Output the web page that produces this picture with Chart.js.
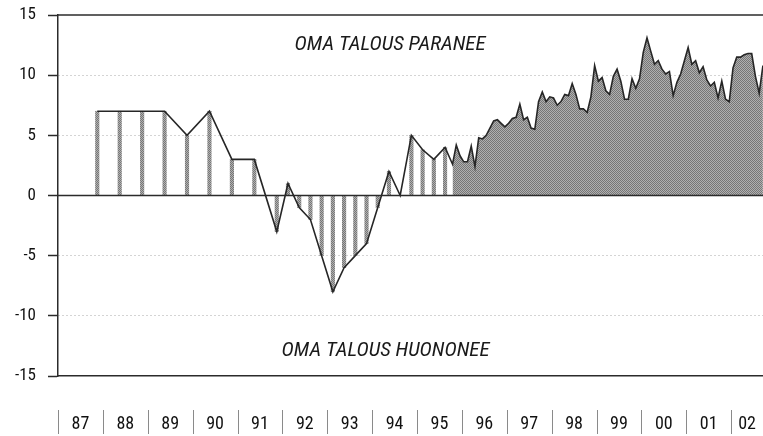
<!DOCTYPE html>
<html><head><meta charset="utf-8">
<script src="https://cdn.jsdelivr.net/npm/chart.js@4.4.1/dist/chart.umd.min.js"></script>
<style>html,body{margin:0;padding:0;background:#fff;}canvas{display:block;}</style>
</head><body>
<canvas id="c" width="763" height="436"></canvas>
<script>
// ---- data ----
const surveyMonths = ['1987-11','1988-05','1988-11','1989-05','1989-11','1990-05','1990-11','1991-05','1991-11',
  '1992-02','1992-05','1992-08','1992-11','1993-02','1993-05','1993-08','1993-11',
  '1994-02','1994-05','1994-08','1994-11','1995-02','1995-05','1995-08'];
const surveyValues = [7,7,7,7,5,7,3,3,-3, 1,-1,-2,-5,-8,-6,-5,-4, -1,2,0,5,3.8,3,4];
const monthlyStart = '1995-10';
const monthlyValues = [
  2.6,4.2,3.3,
  2.8,2.8,4.1,2.4,4.8,4.7,5.0,5.6,6.2,6.3,6.0,5.7,
  6.0,6.4,6.5,7.6,6.3,6.5,5.6,5.5,7.8,8.6,7.8,8.2,
  8.1,7.5,7.8,8.4,8.3,9.3,8.4,7.2,7.2,6.9,8.2,10.8,
  9.5,9.8,8.7,8.4,9.9,10.5,9.5,8.0,8.0,9.7,8.9,9.7,
  11.9,13.1,12.0,10.9,11.2,10.5,10.1,10.3,8.3,9.4,10.1,11.2,
  12.3,10.9,11.2,10.2,10.7,9.6,9.1,9.4,8.1,9.5,8.0,7.8,
  10.6,11.5,11.5,11.7,11.8,11.8,9.9,8.5,10.8];
const yearLabels = ['87','88','89','90','91','92','93','94','95','96','97','98','99','00','01','02'];
const firstYear = 1987;
const yTicks = [-15,-10,-5,0,5,10,15];
const topText = 'OMA TALOUS PARANEE';
const bottomText = 'OMA TALOUS HUONONEE';

// ---- helpers ----
function toDecimal(ym){const p=ym.split('-').map(Number);return p[0]+(p[1]-0.5)/12;}
const surveyPts = surveyMonths.map((m,i)=>({x:toDecimal(m),y:surveyValues[i]}));
const ms = monthlyStart.split('-').map(Number);
const monthlyPts = monthlyValues.map((v,i)=>{const idx=(ms[1]-1)+i;return {x:ms[0]+Math.floor(idx/12)+((idx%12)+0.5)/12,y:v};});
const allPts = surveyPts.concat(monthlyPts);
const X_MAX = 2002.71;

const pat = document.getElementById('c').getContext('2d').createPattern((()=>{
  const c=document.createElement('canvas');c.width=2;c.height=2;
  const g=c.getContext('2d');
  g.fillStyle='#b0b0b0';g.fillRect(0,0,2,2);
  g.fillStyle='#767676';g.fillRect(0,0,1,1);g.fillRect(1,1,1,1);
  return c;})(),'repeat');

const FONT = '"Liberation Sans Narrow","Arial Narrow","Roboto Condensed",Roboto,sans-serif';

const deco = {
  id:'deco',
  afterDatasetsDraw(chart){
    const {ctx, chartArea:a, scales:{x,y}} = chart;
    ctx.save();
    ctx.strokeStyle='#2b2b2b';ctx.lineWidth=1.5;
    [0,15].forEach(v=>{
      const py=y.getPixelForValue(v);
      ctx.beginPath();ctx.moveTo(a.left,py);ctx.lineTo(a.right,py);ctx.stroke();
    });
    ctx.strokeStyle='#8a8a8a';ctx.lineWidth=1;
    yearLabels.forEach((l,i)=>{
      const px=Math.round(x.getPixelForValue(firstYear+i))+0.5;
      ctx.beginPath();ctx.moveTo(px,a.bottom+34);ctx.lineTo(px,a.bottom+58);ctx.stroke();
    });
    ctx.fillStyle='#1a1a1a';
    ctx.font='italic 21px '+FONT;
    ctx.textAlign='center';ctx.textBaseline='middle';
    ctx.fillText(topText,x.getPixelForValue(1994.4),y.getPixelForValue(12.5));
    ctx.fillText(bottomText,x.getPixelForValue(1994.3),y.getPixelForValue(-12.9));
    ctx.restore();
  }
};

new Chart(document.getElementById('c'),{
  type:'bar',
  data:{datasets:[
    {type:'line',data:allPts,borderColor:'#262626',borderWidth:1.6,tension:0,pointRadius:0,fill:false,order:0},
    {type:'bar',data:surveyPts,backgroundColor:pat,borderWidth:0,barThickness:3.5,order:1},
    {type:'line',data:monthlyPts,borderWidth:0,borderColor:'rgba(0,0,0,0)',backgroundColor:pat,fill:'origin',tension:0,pointRadius:0,order:2}
  ]},
  options:{
    responsive:false,animation:false,devicePixelRatio:1,
    layout:{padding:{top:15,left:0,right:0,bottom:0}},
    plugins:{legend:{display:false},tooltip:{enabled:false}},
    scales:{
      x:{type:'linear',min:firstYear,max:X_MAX,offset:false,
        afterFit(s){s.height=60;s.paddingLeft=0;s.paddingRight=0;},
        afterBuildTicks(s){s.ticks=yearLabels.map((l,i)=>({value: i===yearLabels.length-1 ? (firstYear+i+X_MAX)/2 : firstYear+i+0.5}));},
        ticks:{autoSkip:false,maxRotation:0,padding:38,color:'#111',font:{family:FONT,size:18},
          callback:(v,i)=>yearLabels[i]},
        grid:{display:false,drawTicks:false,offset:false},
        border:{display:true,color:'#2b2b2b',width:1.5}
      },
      y:{min:-15,max:15,
        afterFit(s){s.width=58;s.paddingTop=0;s.paddingBottom=0;},
        afterBuildTicks(s){s.ticks=yTicks.map(v=>({value:v}));},
        ticks:{padding:12,color:'#111',font:{family:FONT,size:17}},
        grid:{
          color:(c)=>([5,10,-5,-10].includes(c.tick&&c.tick.value)?'#a8a8a8':'rgba(0,0,0,0)'),
          lineWidth:1,tickLength:10,tickColor:'#2b2b2b',tickWidth:1.5
        },
        border:{display:true,color:'#2b2b2b',width:1.5,dash:(c)=>c.type==='tick'?[1,3]:[]}
      }
    }
  },
  plugins:[deco]
});
</script>
</body></html>
